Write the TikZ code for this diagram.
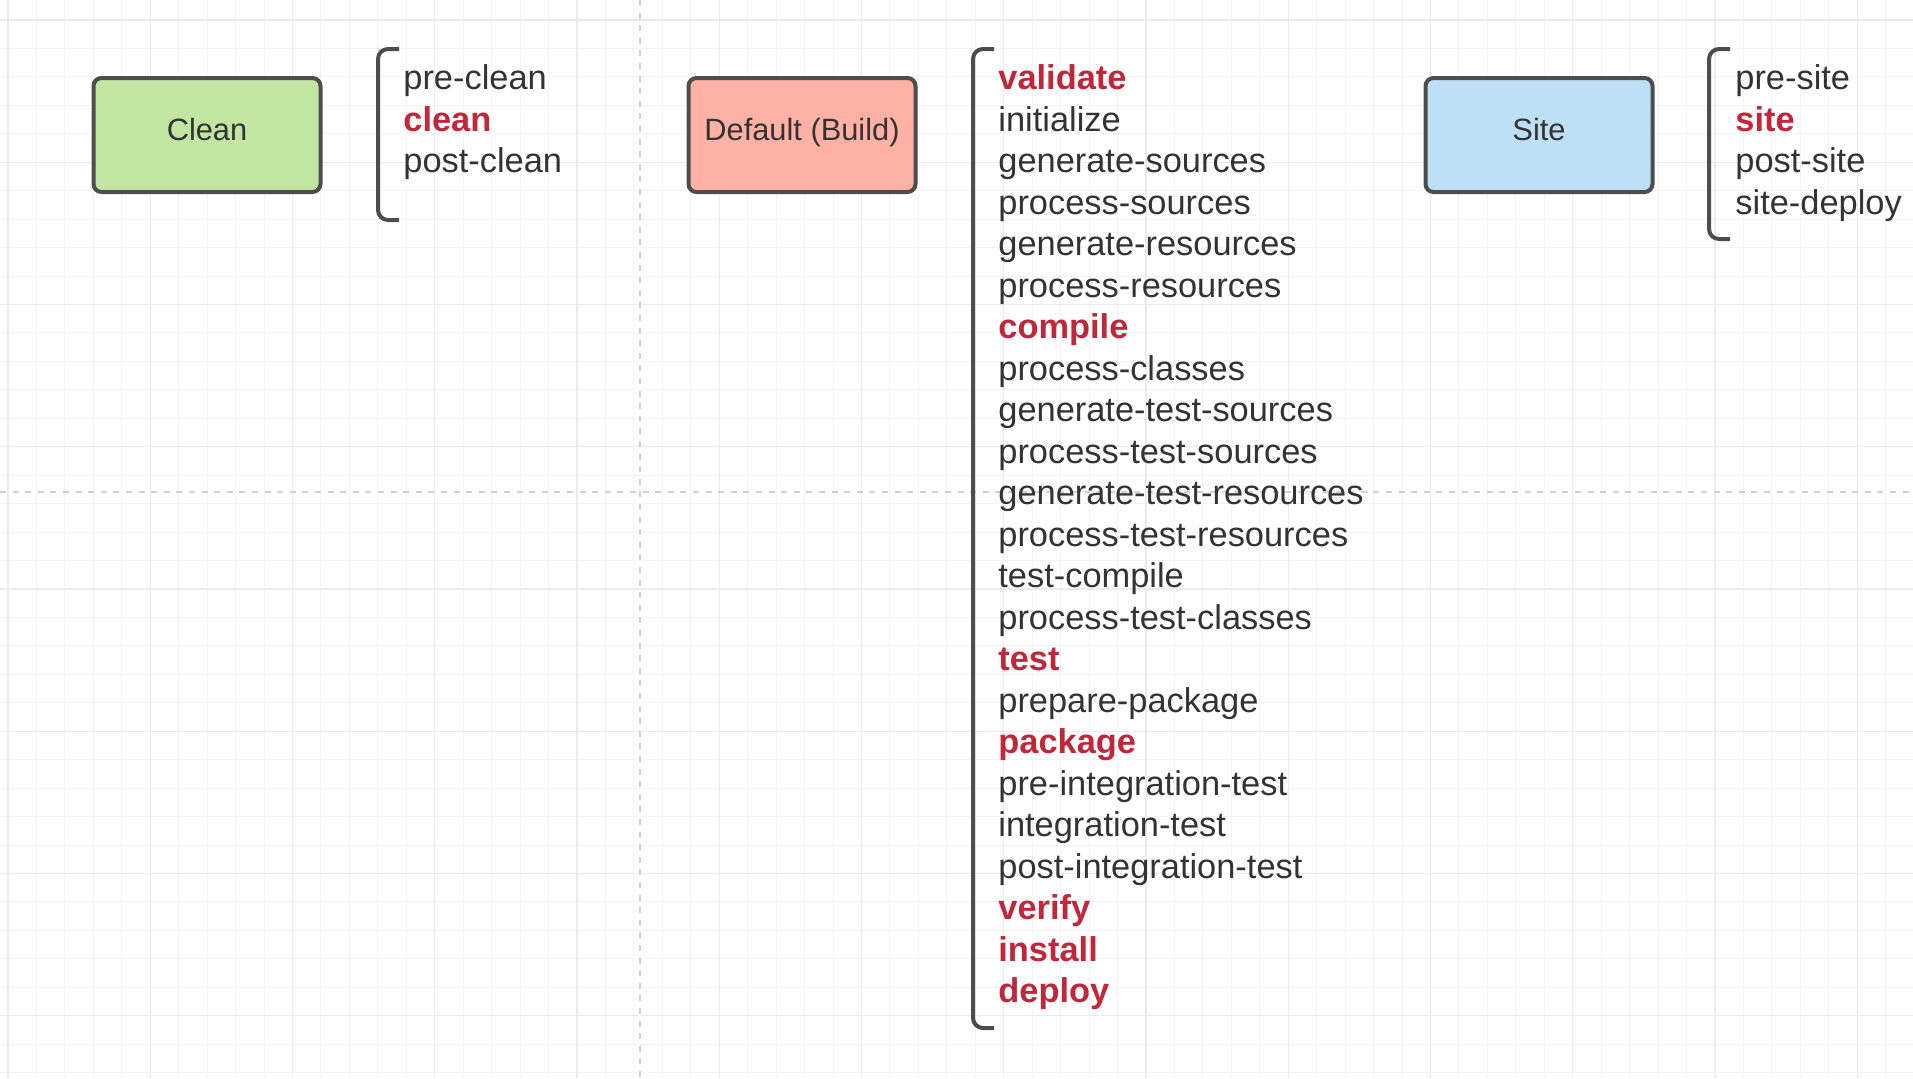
\documentclass[tikz,border=0pt]{standalone}
\usepackage{fontspec}
\setmainfont{Liberation Sans}
\definecolor{ink}{HTML}{333333}
\definecolor{hot}{HTML}{C1273A}
\definecolor{boxline}{HTML}{4D4D4D}
\definecolor{cleanfill}{HTML}{C2E5A1}
\definecolor{buildfill}{HTML}{FFB1A5}
\definecolor{sitefill}{HTML}{BDE0F6}
\definecolor{gridminor}{HTML}{F4F4F4}
\definecolor{gridmajor}{HTML}{EBEBEB}
\definecolor{guide}{HTML}{D0D0D0}

\begin{document}
\begin{tikzpicture}[x=0.5pt,y=-0.5pt,
    box/.style={draw=boxline,line width=2pt,rounded corners=4pt,
      minimum width=113.5pt,minimum height=57pt,text=ink,
      text height=0.75em,text depth=0.25em,
      font=\fontsize{15.4}{18}\selectfont},
    lphase/.style={anchor=base west,inner sep=0pt,text=ink,
      font=\fontsize{17.2}{20}\selectfont},
    kphase/.style={lphase,text=hot,font=\fontsize{17.2}{20}\selectfont\bfseries},
    brk/.style={draw=boxline,line width=2pt,rounded corners=5pt}]
  \useasboundingbox (0,0) rectangle (1913,1078);
  \fill[white] (0,0) rectangle (1913,1078);

  % canvas grid
  \foreach \k in {0,...,67}
    \draw[gridminor,line width=0.5pt] (8+28.45*\k,0) -- (8+28.45*\k,1078);
  \foreach \k in {0,...,37}
    \draw[gridminor,line width=0.5pt] (0,20+28.45*\k) -- (1913,20+28.45*\k);
  \foreach \k in {0,...,13}
    \draw[gridmajor,line width=0.6pt] (8+142.25*\k,0) -- (8+142.25*\k,1078);
  \foreach \k in {0,...,7}
    \draw[gridmajor,line width=0.6pt] (0,20+142.25*\k) -- (1913,20+142.25*\k);
  % guides
  \draw[guide,line width=1pt,dash pattern=on 3pt off 3.3pt] (640,0) -- (640,1078);
  \draw[guide,line width=1pt,dash pattern=on 3pt off 3.3pt] (0,492) -- (1913,492);

  % lifecycles
  \node[box,fill=cleanfill] (clean) at (207,135) {Clean};
  \node[box,fill=buildfill] (build) at (802,135) {Default (Build)};
  \node[box,fill=sitefill] (site) at (1539,135) {Site};

  % phases
  \draw[brk] (399,49) -| (378,220) -- (399,220);
  \foreach \ph/\st [count=\i from 0] in {pre-clean/lphase,clean/kphase,post-clean/lphase}
    \node[\st] (clean\i) at (403,89.5+41.5*\i) {\ph};

  \draw[brk] (994,49) -| (973,1028) -- (994,1028);
  \foreach \ph/\st [count=\i from 0] in {validate/kphase,initialize/lphase,
      generate-sources/lphase,process-sources/lphase,generate-resources/lphase,
      process-resources/lphase,compile/kphase,process-classes/lphase,
      generate-test-sources/lphase,process-test-sources/lphase,
      generate-test-resources/lphase,process-test-resources/lphase,
      test-compile/lphase,process-test-classes/lphase,test/kphase,
      prepare-package/lphase,package/kphase,pre-integration-test/lphase,
      integration-test/lphase,post-integration-test/lphase,verify/kphase,
      install/kphase,deploy/kphase}
    \node[\st] (build\i) at (998,89.5+41.5*\i) {\ph};

  \draw[brk] (1730,49) -| (1709,239) -- (1730,239);
  \foreach \ph/\st [count=\i from 0] in {pre-site/lphase,site/kphase,post-site/lphase,site-deploy/lphase}
    \node[\st] (site\i) at (1735,89.5+41.5*\i) {\ph};
\end{tikzpicture}
\end{document}
